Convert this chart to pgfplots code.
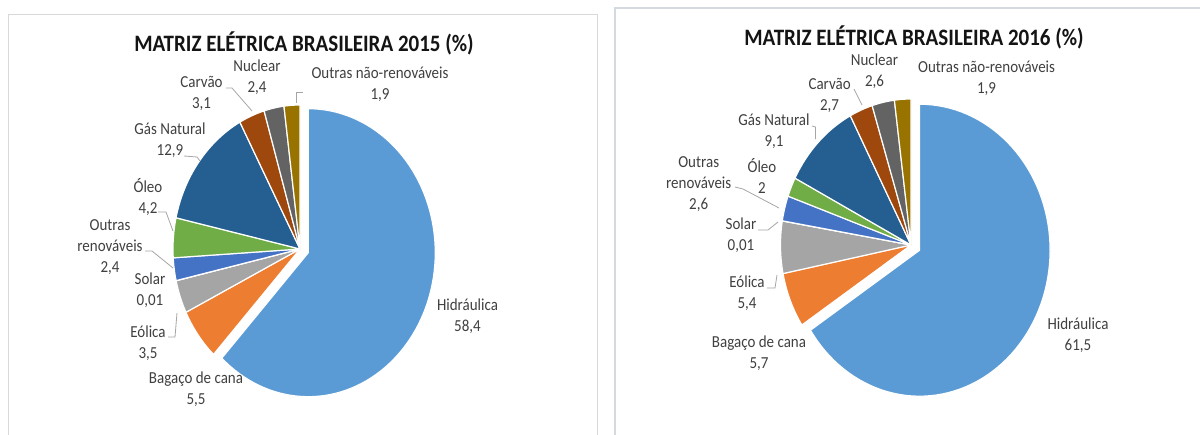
\documentclass[border=0pt]{standalone}
\usepackage{fontspec}
\setmainfont{Carlito}
\usepackage{graphicx}
\usepackage{pgfplots}
\usepackage{pgfplotstable}
\pgfplotsset{compat=1.18}

\definecolor{s0}{HTML}{5B9BD5}
\definecolor{s1}{HTML}{ED7D31}
\definecolor{s2}{HTML}{A5A5A5}
\definecolor{s3}{HTML}{FFC000}
\definecolor{s4}{HTML}{4472C4}
\definecolor{s5}{HTML}{70AD47}
\definecolor{s6}{HTML}{255E91}
\definecolor{s7}{HTML}{9E480E}
\definecolor{s8}{HTML}{636363}
\definecolor{s9}{HTML}{997300}
\definecolor{lbl}{HTML}{404040}
\definecolor{ldr}{HTML}{A6A6A6}
\definecolor{frameA}{HTML}{D9D9D9}
\definecolor{frameB}{HTML}{D5DAE1}

% 2015: Hidraulica, Bagaco, Eolica, Solar, Outras renov., Oleo, Gas Natural, Carvao, Nuclear, Outras nao-renov.
\pgfplotstableread{
value
58.4
5.5
3.5
0.01
2.4
4.2
12.9
3.1
2.4
1.9
}\dataA
% 2016
\pgfplotstableread{
value
61.5
5.7
5.4
0.01
2.6
2
9.1
2.7
2.6
1.9
}\dataB

\newcommand\st[1]{\scalebox{1}[1.12]{#1}}

\newcommand\drawpie[2]{%
  \pgfmathsetmacro\pietotal{0}%
  \pgfplotsforeachungrouped \i in {0,...,9}{%
    \pgfplotstablegetelem{\i}{value}\of#1%
    \pgfmathsetmacro\pietotal{\pietotal+\pgfplotsretval}%
  }%
  \pgfmathsetmacro\piestart{90}%
  \pgfplotsforeachungrouped \i in {0,...,9}{%
    \pgfplotstablegetelem{\i}{value}\of#1%
    \pgfmathsetmacro\piefrac{\pgfplotsretval/\pietotal}%
    \pgfmathsetmacro\pieend{\piestart-\piefrac*360}%
    \ifnum\i=0\relax
      \pgfmathsetmacro\piemid{(\piestart+\pieend)/2}%
      \pgfmathsetmacro\piedx{#2*cos(\piemid)}%
      \pgfmathsetmacro\piedy{#2*sin(\piemid)}%
    \else
      \def\piedx{0}\def\piedy{0}%
    \fi
    \edef\cmd{\noexpand\addplot[fill=s\i, draw=white, line width=1.2pt, line join=round, domain=\pieend:\piestart, samples=90, variable=\noexpand\t] ({\piedx+cos(\noexpand\t)},{\piedy+sin(\noexpand\t)}) -- (axis cs:\piedx,\piedy) -- cycle;}%
    \cmd
    \global\let\piestart\pieend
  }%
}

\newcommand\lab[3]{\node[align=center, text=lbl, font=\fontsize{15}{21}\selectfont, inner sep=0pt] at (#1pt,-#2pt) {#3};}

\begin{document}
\begin{tikzpicture}
\path[use as bounding box] (0pt,0pt) rectangle (1200pt,-434pt);
\fill[white] (0pt,0pt) rectangle (1200pt,-434pt);

% frames
\draw[frameA, line width=1pt] (8pt,-440pt) -- (8pt,-14pt) -- (597pt,-14pt) -- (597pt,-440pt);
\draw[frameB, line width=1.8pt] (615pt,-440pt) -- (615pt,-8pt) -- (1210pt,-8pt);

% ---------- 2015 ----------
\begin{axis}[at={(300pt,-249pt)}, anchor=center, scale only axis,
  width=254pt, height=288pt, xmin=-1, xmax=1, ymin=-1, ymax=1,
  hide axis, clip=false]
\drawpie{\dataA}{0.07}
\end{axis}

\node[font=\bfseries\fontsize{21}{25}\selectfont, text=black!92, inner sep=0pt] at (304pt,-43pt) {\st{MATRIZ ELÉTRICA BRASILEIRA 2015 (\%)}};

\lab{257}{77}{\st{Nuclear}\\\st{2,4}}
\lab{201.5}{93.5}{\st{Carvão}\\\st{3,1}}
\lab{380}{84.5}{\st{Outras não-renováveis}\\\st{1,9}}
\lab{170}{140}{\st{Gás Natural}\\\st{12,9}}
\lab{148}{197.5}{\st{Óleo}\\\st{4,2}}
\lab{110}{247}{\st{Outras}\\\st{renováveis}\\\st{2,4}}
\lab{150}{290}{\st{Solar}\\\st{0,01}}
\lab{148}{343}{\st{Eólica}\\\st{3,5}}
\lab{196}{389.5}{\st{Bagaço de cana}\\\st{5,5}}
\lab{467.5}{316.5}{\st{Hidráulica}\\\st{58,4}}

\begin{scope}[ldr, line width=0.8pt]
\draw (226pt,-88pt) -- (232pt,-88pt) -- (252pt,-111pt);
\draw (303pt,-92pt) -- (296.5pt,-92pt) -- (296.5pt,-103pt);
\draw (184pt,-156pt) -- (197pt,-157pt) -- (200pt,-161pt);
\draw (158pt,-212pt) -- (166pt,-212pt) -- (173pt,-231pt);
\draw (145pt,-251pt) -- (152pt,-251pt) -- (173pt,-268pt);
\draw (168pt,-337pt) -- (175pt,-337pt) -- (177pt,-313pt);
\end{scope}

% ---------- 2016 ----------
\begin{axis}[at={(911pt,-245pt)}, anchor=center, scale only axis,
  width=261pt, height=292pt, xmin=-1, xmax=1, ymin=-1, ymax=1,
  hide axis, clip=false]
\drawpie{\dataB}{0.075}
\end{axis}

\node[font=\bfseries\fontsize{21}{25}\selectfont, text=black!92, inner sep=0pt] at (914pt,-37pt) {\st{MATRIZ ELÉTRICA BRASILEIRA 2016 (\%)}};

\lab{874.5}{71.5}{\st{Nuclear}\\\st{2,6}}
\lab{829.6}{95.5}{\st{Carvão}\\\st{2,7}}
\lab{986.6}{78}{\st{Outras não-renováveis}\\\st{1,9}}
\lab{774}{131.5}{\st{Gás Natural}\\\st{9,1}}
\lab{698.7}{184.5}{\st{Outras}\\\st{renováveis}\\\st{2,6}}
\lab{762}{175.5}{\st{Óleo}\\\st{2}}
\lab{741}{235.5}{\st{Solar}\\\st{0,01}}
\lab{747}{293.5}{\st{Eólica}\\\st{5,4}}
\lab{759}{353}{\st{Bagaço de cana}\\\st{5,7}}
\lab{1078}{335}{\st{Hidráulica}\\\st{61,5}}

\begin{scope}[ldr, line width=0.8pt]
\draw (854pt,-89pt) -- (862pt,-105pt);
\draw (812pt,-126pt) -- (815.5pt,-127pt) -- (815.5pt,-139pt);
\draw (735pt,-187pt) -- (743pt,-189pt) -- (779pt,-208pt);
\draw (758pt,-230pt) -- (768pt,-230pt) -- (778pt,-222pt);
\draw (767pt,-288pt) -- (775pt,-288pt) -- (777pt,-275pt);
\end{scope}
\end{tikzpicture}
\end{document}
